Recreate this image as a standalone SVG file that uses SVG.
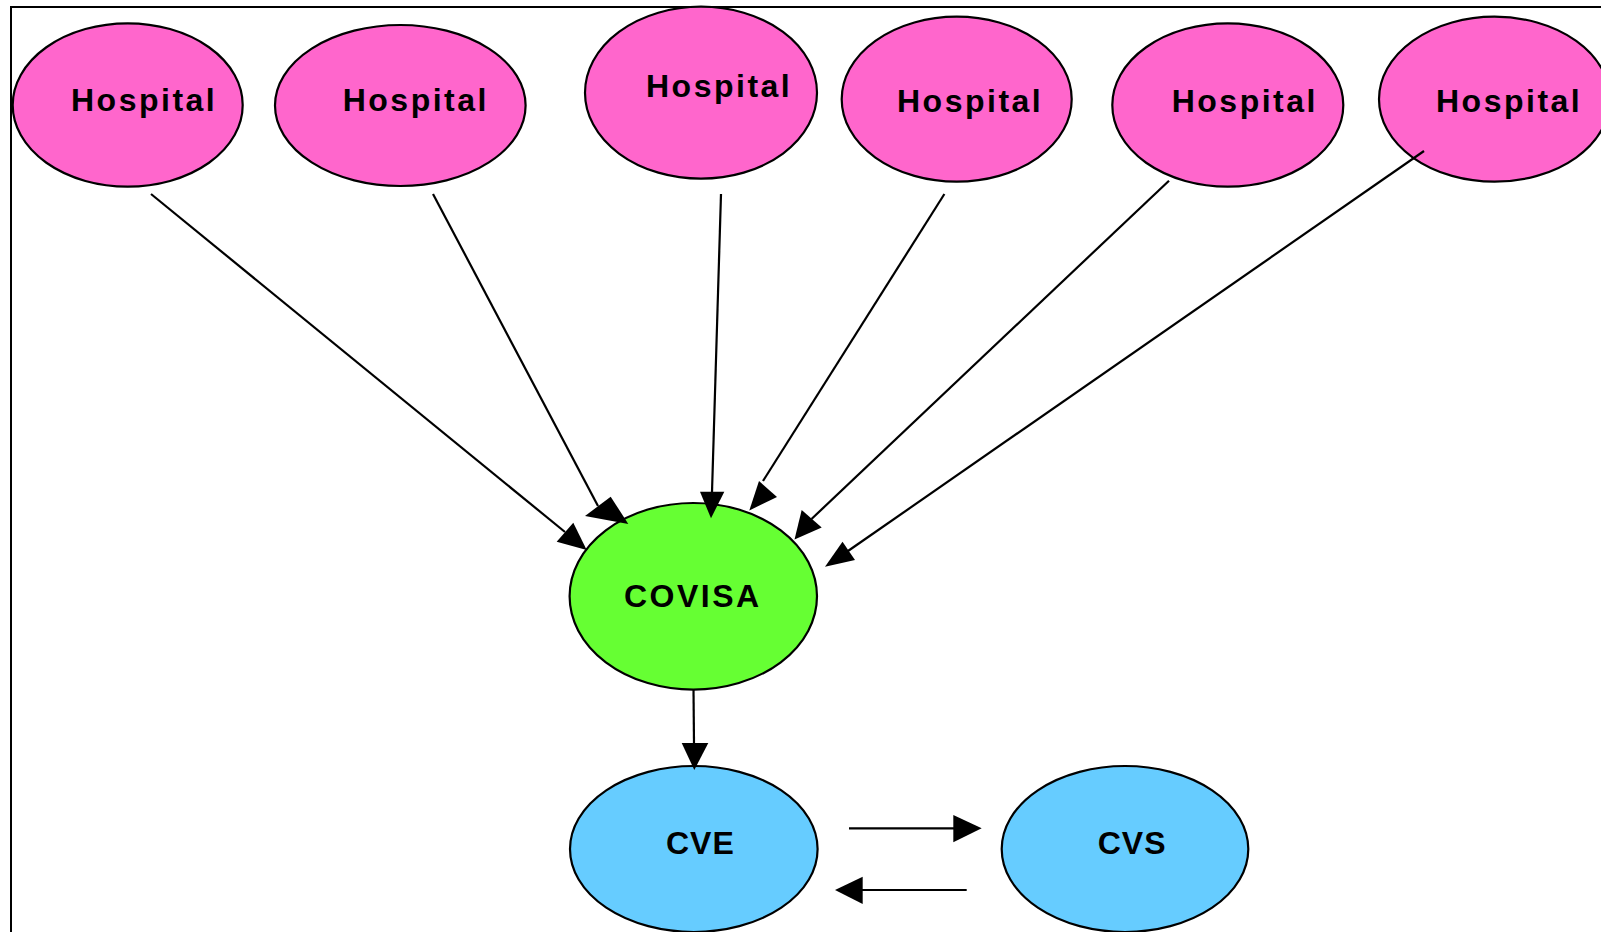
<svg xmlns="http://www.w3.org/2000/svg" width="1601" height="932" viewBox="0 0 1601 932">
<style>
.hosp{fill:#FF66CC;stroke:#000;stroke-width:2.2}
.covisa{fill:#66FF33;stroke:#000;stroke-width:2.2}
.cv{fill:#66CCFF;stroke:#000;stroke-width:2.2}
.lbl{font-family:"Liberation Sans",Arial,sans-serif;font-weight:bold;font-size:32px;letter-spacing:2.5px;fill:#000}
.sm{letter-spacing:1px}
.edge{stroke:#000;stroke-width:2.2;fill:none}
.head{fill:#000;stroke:none}
</style>
<rect width="1601" height="932" fill="#fff"/>
<path d="M11,940 V7 H1610" fill="none" stroke="#000" stroke-width="2"/>
<g id="hospital1"><ellipse class="hosp" cx="127.7" cy="105" rx="115" ry="81.7"/><text class="lbl" x="71" y="111">Hospital</text></g>
<g id="hospital2"><ellipse class="hosp" cx="400.3" cy="105.5" rx="125.3" ry="80.5"/><text class="lbl" x="342.7" y="111">Hospital</text></g>
<g id="hospital3"><ellipse class="hosp" cx="701" cy="92.7" rx="116" ry="86"/><text class="lbl" x="646" y="97">Hospital</text></g>
<g id="hospital4"><ellipse class="hosp" cx="956.7" cy="99.2" rx="115" ry="82.5"/><text class="lbl" x="897" y="112">Hospital</text></g>
<g id="hospital5"><ellipse class="hosp" cx="1227.8" cy="105" rx="115.5" ry="81.7"/><text class="lbl" x="1171.7" y="112">Hospital</text></g>
<g id="hospital6"><ellipse class="hosp" cx="1494.5" cy="99.2" rx="115.5" ry="82.5"/><text class="lbl" x="1436" y="112">Hospital</text></g>
<g id="covisa"><ellipse class="covisa" cx="693.3" cy="596.3" rx="123.7" ry="93.3"/><text class="lbl" x="624" y="607">COVISA</text></g>
<g id="cve"><ellipse class="cv" cx="693.8" cy="849" rx="123.8" ry="83"/><text class="lbl sm" x="666" y="854">CVE</text></g>
<g id="cvs"><ellipse class="cv" cx="1125" cy="849" rx="123.3" ry="83"/><text class="lbl sm" x="1097.7" y="854">CVS</text></g>
<g id="connectors">
<line class="edge" x1="151" y1="194" x2="565" y2="532"/>
<polygon class="head" points="556.7,541.7 573.3,522.7 586.7,550"/>
<line class="edge" x1="433" y1="194" x2="598" y2="506"/>
<polygon class="head" points="585,516 610.7,496.7 628.3,524"/>
<line class="edge" x1="721" y1="194" x2="712" y2="492"/>
<polygon class="head" points="700,491.7 724.3,491.7 711,518.3"/>
<line class="edge" x1="944.4" y1="194" x2="763" y2="481"/>
<polygon class="head" points="759,481 777,497 749.3,510.5"/>
<line class="edge" x1="1169" y1="180.7" x2="811.5" y2="519"/>
<polygon class="head" points="801.7,510 821.7,527.5 794.5,539.5"/>
<line class="edge" x1="1424" y1="151" x2="848" y2="551"/>
<polygon class="head" points="842.5,541.7 855,560 825,566.7"/>
<line class="edge" x1="693.5" y1="689" x2="694" y2="744"/>
<polygon class="head" points="681.7,743 708.3,743 694.3,770"/>
<line class="edge" x1="849" y1="828.3" x2="954" y2="828.3"/>
<polygon class="head" points="953.3,815 953.3,842.3 981.7,828.3"/>
<line class="edge" x1="966.7" y1="890" x2="862" y2="890"/>
<polygon class="head" points="862.7,876.7 862.7,904 835,890"/>
</g>
</svg>
